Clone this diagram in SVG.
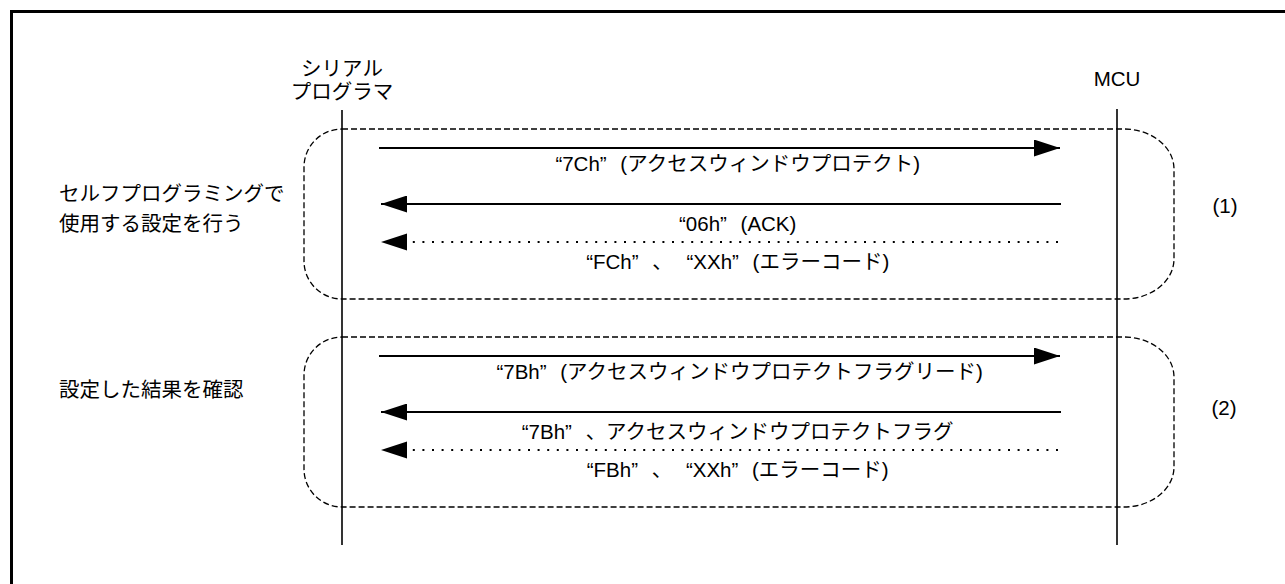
<svg xmlns="http://www.w3.org/2000/svg" width="1285" height="584" viewBox="0 0 1285 584">
  <style>
    .t { font-family: "Liberation Sans", "Noto Sans CJK JP", sans-serif; font-size: 20.5px; fill: #000; }
    .m { text-anchor: middle; }
    .life { stroke: #000; stroke-width: 1.6; fill: none; }
    .msg { stroke: #000; stroke-width: 1.8; fill: none; }
    .dot { stroke: #000; stroke-width: 2; fill: none; stroke-dasharray: 2 7.6; }
    .grp { stroke: #000; stroke-width: 1.3; fill: none; stroke-dasharray: 6 3; }
    .head { fill: #000; stroke: none; }
  </style>
  <defs>
    <marker id="ah" viewBox="0 0 26 17" refX="26" refY="8.5" markerWidth="26" markerHeight="17" markerUnits="userSpaceOnUse" orient="auto">
      <polygon class="head" points="0,0 26,8.5 0,17"/>
    </marker>
  </defs>
  <rect x="0" y="0" width="1285" height="584" fill="#fff"/>
  <rect x="11.5" y="11.5" width="1300" height="600" fill="none" stroke="#000" stroke-width="3"/>

  <g id="lifeline-programmer">
    <text class="t m" x="342" y="76">シリアル</text>
    <text class="t m" x="342" y="99">プログラマ</text>
    <line class="life" x1="342" y1="110" x2="342" y2="545"/>
  </g>
  <g id="lifeline-mcu">
    <text class="t m" x="1117" y="86">MCU</text>
    <line class="life" x1="1117" y1="109" x2="1117" y2="545"/>
  </g>

  <g id="group1">
    <path class="grp" d="M342,129 H1124 A50,40 0 0 1 1174,169 V259 A50,40 0 0 1 1124,299 H342 A38,38 0 0 1 304,261 V167 A38,38 0 0 1 342,129 Z"/>
    <text class="t" x="59" y="201">セルフプログラミングで</text>
    <text class="t" x="59" y="231">使用する設定を行う</text>
    <text class="t m" x="1225" y="213">(1)</text>
  </g>
  <g id="group2">
    <path class="grp" d="M342,337 H1124 A50,40 0 0 1 1174,377 V467 A50,40 0 0 1 1124,507 H342 A38,38 0 0 1 304,469 V375 A38,38 0 0 1 342,337 Z"/>
    <text class="t" x="59" y="397">設定した結果を確認</text>
    <text class="t m" x="1224" y="415">(2)</text>
  </g>

  <g id="connectors">
    <line class="msg" x1="379" y1="148" x2="1060" y2="148" marker-end="url(#ah)"/>
    <line class="msg" x1="1061" y1="204" x2="381" y2="204" marker-end="url(#ah)"/>
    <line class="dot" x1="1058" y1="242" x2="406" y2="242"/>
    <polygon class="head" points="381,242 407,233.5 407,250.5"/>

    <line class="msg" x1="379" y1="356" x2="1060" y2="356" marker-end="url(#ah)"/>
    <line class="msg" x1="1061" y1="412" x2="381" y2="412" marker-end="url(#ah)"/>
    <line class="dot" x1="1058" y1="450" x2="406" y2="450"/>
    <polygon class="head" points="381,450 407,441.5 407,458.5"/>
  </g>

  <g id="labels">
    <text class="t m" x="724" y="171"><tspan dx="13.7">“</tspan>7Ch”<tspan dx="13.7">(アクセスウィンドウプロテクト)</tspan></text>
    <text class="t m" x="724" y="231"><tspan dx="13.7">“</tspan>06h”<tspan dx="13.7">(ACK)</tspan></text>
    <text class="t m" x="724" y="269"><tspan dx="13.7">“</tspan>FCh”<tspan dx="13.7">、</tspan><tspan dx="13.7">“</tspan>XXh”<tspan dx="13.7">(エラーコード)</tspan></text>
    <text class="t m" x="726" y="379"><tspan dx="13.7">“</tspan>7Bh”<tspan dx="13.7">(アクセスウィンドウプロテクトフラグリード)</tspan></text>
    <text class="t m" x="724" y="439"><tspan dx="13.7">“</tspan>7Bh”<tspan dx="13.7">、アクセスウィンドウプロテクトフラグ</tspan></text>
    <text class="t m" x="724" y="477"><tspan dx="13.7">“</tspan>FBh”<tspan dx="13.7">、</tspan><tspan dx="13.7">“</tspan>XXh”<tspan dx="13.7">(エラーコード)</tspan></text>
  </g>
</svg>
